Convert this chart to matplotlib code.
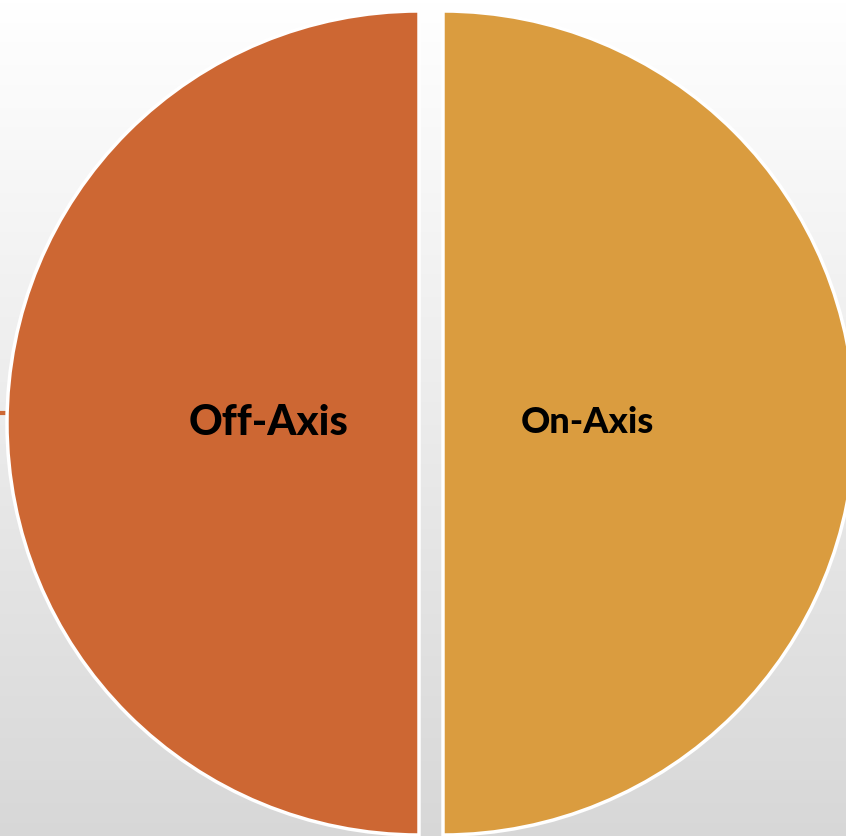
import numpy as np
import matplotlib.pyplot as plt

# data
labels = ["Off-Axis", "On-Axis"]
shares = [50, 50]
colors = ["#CD6733", "#DA9C3F"]
label_sizes = [30, 26]
label_dist = [0.365, 0.35]

W, H = 846, 836
cx, cy = 431, 836 - 423
R = 412
gap = 12

fig = plt.figure(figsize=(W / 100, H / 100), dpi=100)
ax = fig.add_axes([0, 0, 1, 1])

# background gradient, white on top to light gray at the bottom
grad = np.linspace(1.0, 0.845, 256).reshape(-1, 1)
ax.imshow(np.dstack([grad, grad, grad]), extent=[0, W, 0, H], origin="upper",
          aspect="auto", zorder=0)

wedges, texts = ax.pie(shares, labels=labels, colors=colors, startangle=90,
                       center=(cx, cy), radius=R, explode=[gap, gap],
                       frame=True,
                       wedgeprops=dict(edgecolor="white", linewidth=2.5),
                       textprops=dict(fontweight="black", color="black",
                                      family=["Lato", "DejaVu Sans"]))
for w, t, s, d in zip(wedges, texts, label_sizes, label_dist):
    w.set_zorder(2)
    ang = np.deg2rad((w.theta1 + w.theta2) / 2)
    wx, wy = w.center
    t.set_position((wx + d * R * np.cos(ang), wy + d * R * np.sin(ang)))
    t.set_fontsize(s)
    t.set_ha("center")
    t.set_va("center")
    t.set_zorder(3)

ax.set_xlim(0, W)
ax.set_ylim(0, H)
ax.set_aspect("equal")
ax.axis("off")

# small leader stub on the left edge
ax.plot([0, cx - gap - R - 1], [cy + 10, cy + 10], color=colors[0], lw=3,
        zorder=1, solid_capstyle="butt")

fig.savefig("out.png", dpi=100)
